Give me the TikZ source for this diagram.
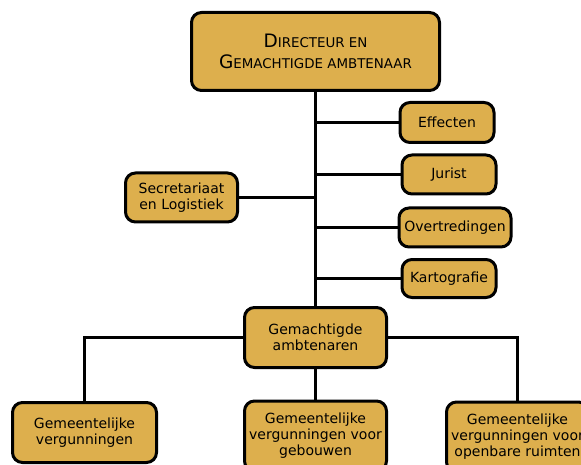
\documentclass[tikz,border=0pt]{standalone}
\usepackage{fontspec}
\setmainfont{DejaVu Sans}
\definecolor{boxfill}{HTML}{DDAF4D}
\tikzset{
  box/.style={draw=black, line width=3pt, fill=boxfill, rounded corners=10pt,
    align=center, inner sep=0pt, font=\fontsize{14}{16}\selectfont},
  conn/.style={draw=black, line width=3pt}
}
\newcommand{\bigc}[1]{{\fontsize{18.5}{21}\selectfont #1}}
\newcommand{\smc}[1]{{\fontsize{13.4}{21}\selectfont #1}}
\begin{document}
\begin{tikzpicture}[x=1pt,y=-1pt]
\useasboundingbox (0,0) rectangle (581,465);
\node[box, minimum width=248pt, minimum height=78pt, font=\fontsize{18.5}{21}\selectfont] (top) at (315.5,51.5)
  {\bigc{D}\smc{IRECTEUR EN}\\ \bigc{G}\smc{EMACHTIGDE AMBTENAAR}};
\node[box, minimum width=94pt, minimum height=40pt] (eff) at (447,122.5) {Effecten};
\node[box, minimum width=94pt, minimum height=39pt] (jur) at (449,174.5) {Jurist};
\node[box, minimum width=112pt, minimum height=39pt] (ovr) at (455,227.5) {Overtredingen};
\node[box, minimum width=94pt, minimum height=38pt] (kar) at (449,278.5) {Kartografie};
\node[box, minimum width=112pt, minimum height=49pt] (sec) at (181.5,197.5) {Secretariaat\\en Logistiek};
\node[box, minimum width=142pt, minimum height=60pt] (gem) at (315.5,337.5) {Gemachtigde\\ambtenaren};
\node[box, minimum width=144pt, minimum height=60pt] (bl) at (84.5,432.5) {Gemeentelijke\\vergunningen};
\node[box, minimum width=142pt, minimum height=70pt] (bm) at (315.5,436) {Gemeentelijke\\vergunningen voor\\gebouwen};
\node[box, minimum width=142pt, minimum height=70pt] (br) at (517.5,437) {Gemeentelijke\\vergunningen voor\\openbare ruimten};
\draw[conn] (top.south) -- (gem.north);
\draw[conn] (eff.west -| top.south) -- (eff.west);
\draw[conn] (jur.west -| top.south) -- (jur.west);
\draw[conn] (ovr.west -| top.south) -- (ovr.west);
\draw[conn] (kar.west -| top.south) -- (kar.west);
\draw[conn] (sec.east) -- (sec.east -| top.south);
\draw[conn] (gem.west) -| (bl.north);
\draw[conn] (gem.east) -| (br.north);
\draw[conn] (gem.south) -- (bm.north);
\end{tikzpicture}
\end{document}
